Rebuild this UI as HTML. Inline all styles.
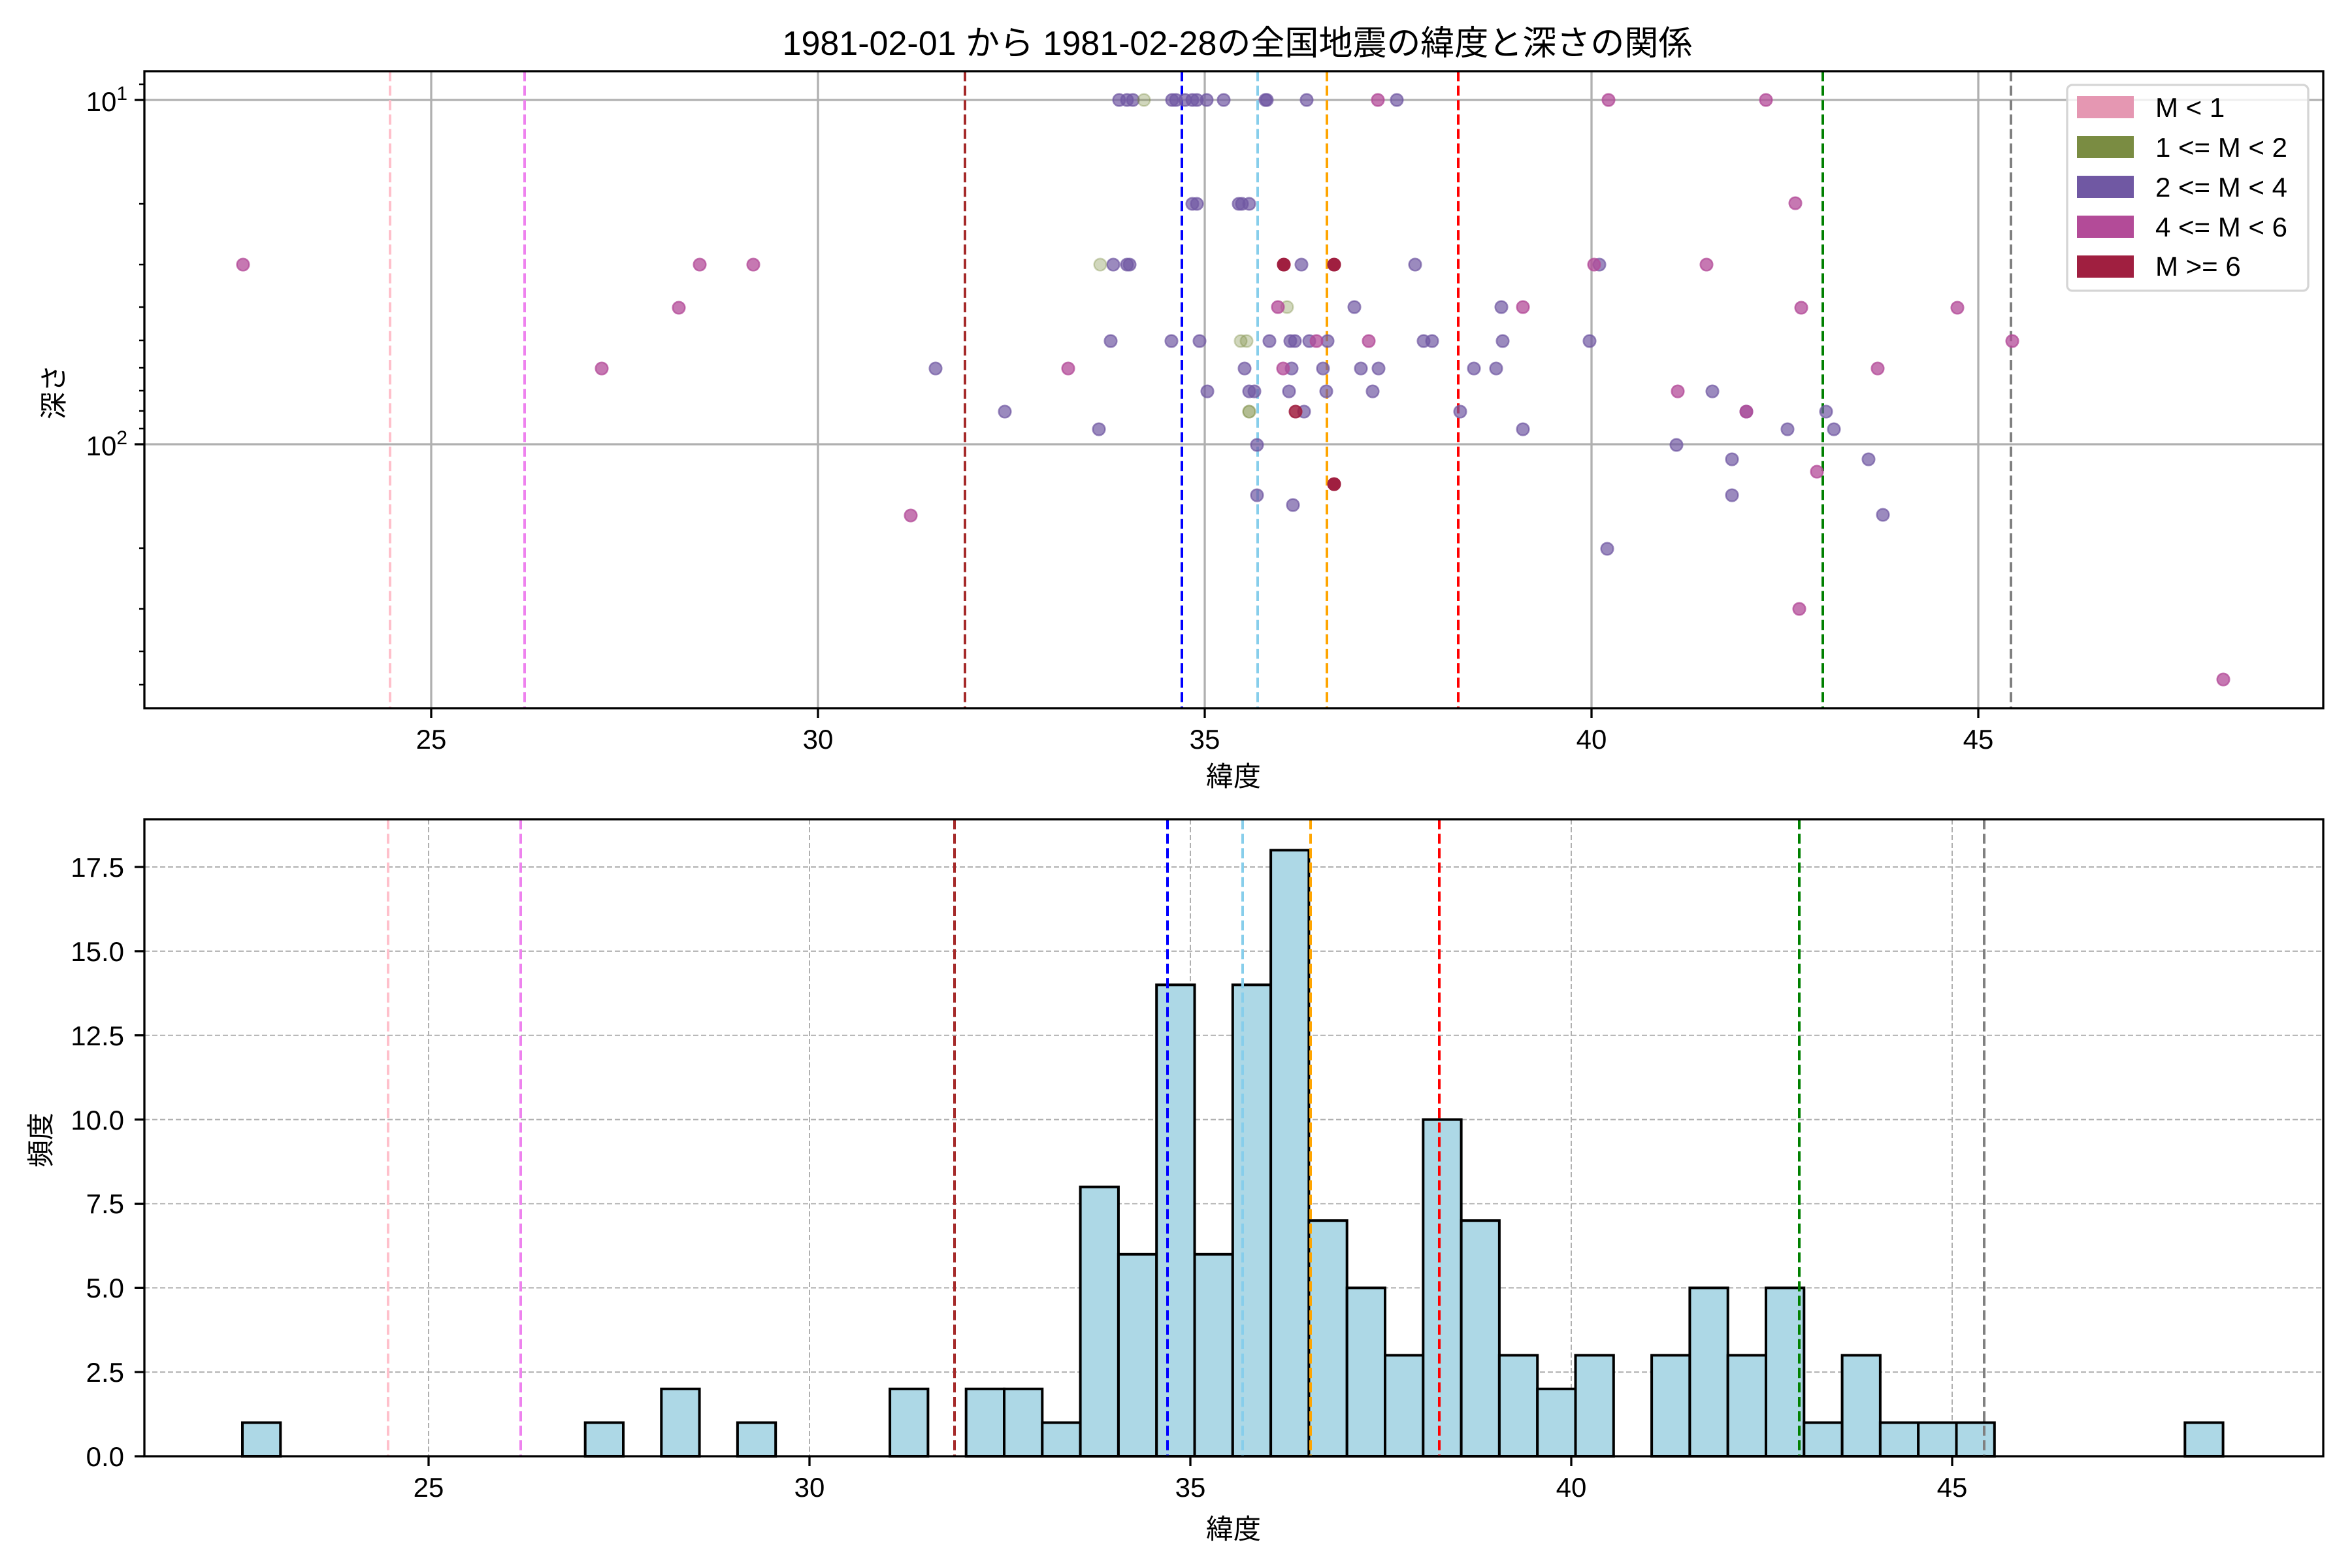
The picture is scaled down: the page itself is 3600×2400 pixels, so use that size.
<!DOCTYPE html>
<html><head><meta charset="utf-8">
<style>
html,body{margin:0;padding:0;background:#fff;}
svg{display:block;}
text{font-family:"Liberation Sans","Noto Sans CJK JP",sans-serif;fill:#000;}
</style></head>
<body>
<svg width="3600" height="2400" viewBox="0 0 3600 2400" xmlns="http://www.w3.org/2000/svg">
<rect width="3600" height="2400" fill="#fff"/>
<text x="1894" y="84" font-size="52" text-anchor="middle">1981-02-01 から 1981-02-28の全国地震の緯度と深さの関係</text>

<!-- TOP PANEL -->
<g stroke="#b0b0b0" stroke-width="3.3">
<line x1="660" y1="109" x2="660" y2="1084"/><line x1="1252" y1="109" x2="1252" y2="1084"/><line x1="1844" y1="109" x2="1844" y2="1084"/><line x1="2436" y1="109" x2="2436" y2="1084"/><line x1="3028" y1="109" x2="3028" y2="1084"/>
<line x1="221" y1="153" x2="3556" y2="153"/><line x1="221" y1="680" x2="3556" y2="680"/>
</g>
<g stroke-width="4" stroke-dasharray="15.4 6.7" fill="none">
<line x1="597" y1="109" x2="597" y2="1084" stroke="#ffc0cb"/>
<line x1="803" y1="109" x2="803" y2="1084" stroke="#ee82ee"/>
<line x1="1477" y1="109" x2="1477" y2="1084" stroke="#a52a2a"/>
<line x1="1809" y1="109" x2="1809" y2="1084" stroke="#0000ff"/>
<line x1="1925" y1="109" x2="1925" y2="1084" stroke="#87ceeb"/>
<line x1="2031" y1="109" x2="2031" y2="1084" stroke="#ffa500"/>
<line x1="2232" y1="109" x2="2232" y2="1084" stroke="#ff0000"/>
<line x1="2790" y1="109" x2="2790" y2="1084" stroke="#008000"/>
<line x1="3078" y1="109" x2="3078" y2="1084" stroke="#808080"/>
</g>
<g stroke-width="2.5">
<g fill="#7058a3" fill-opacity="0.7" stroke="#7058a3" stroke-opacity="0.7">
<circle cx="1432" cy="564" r="9.3"/><circle cx="1538" cy="630" r="9.3"/><circle cx="1682" cy="657" r="9.3"/>
<circle cx="1713" cy="153" r="9.3"/><circle cx="1725" cy="153" r="9.3"/><circle cx="1734" cy="153" r="9.3"/>
<circle cx="1794" cy="153" r="9.3"/><circle cx="1800" cy="153" r="9.3"/><circle cx="1814" cy="153" r="9.3"/><circle cx="1825" cy="153" r="9.3"/><circle cx="1832" cy="153" r="9.3"/><circle cx="1847" cy="153" r="9.3"/><circle cx="1873" cy="153" r="9.3"/>
<circle cx="1937" cy="153" r="9.3"/><circle cx="1939" cy="153" r="9.3"/><circle cx="2000" cy="153" r="9.3"/><circle cx="2138" cy="153" r="9.3"/>
<circle cx="1825" cy="312" r="9.3"/><circle cx="1832" cy="312" r="9.3"/><circle cx="1896" cy="312" r="9.3"/><circle cx="1901" cy="312" r="9.3"/><circle cx="1912" cy="312" r="9.3"/>
<circle cx="1704" cy="405" r="9.3"/><circle cx="1725" cy="405" r="9.3"/><circle cx="1729" cy="405" r="9.3"/><circle cx="1992" cy="405" r="9.3"/><circle cx="2166" cy="405" r="9.3"/><circle cx="2448" cy="405" r="9.3"/>
<circle cx="2073" cy="470" r="9.3"/><circle cx="2298" cy="470" r="9.3"/>
<circle cx="1700" cy="522" r="9.3"/><circle cx="1793" cy="522" r="9.3"/><circle cx="1836" cy="522" r="9.3"/><circle cx="1943" cy="522" r="9.3"/><circle cx="1975" cy="522" r="9.3"/><circle cx="1982" cy="522" r="9.3"/><circle cx="2004" cy="522" r="9.3"/><circle cx="2032" cy="522" r="9.3"/><circle cx="2179" cy="522" r="9.3"/><circle cx="2192" cy="522" r="9.3"/><circle cx="2300" cy="522" r="9.3"/><circle cx="2433" cy="522" r="9.3"/>
<circle cx="1905" cy="564" r="9.3"/><circle cx="1977" cy="564" r="9.3"/><circle cx="2025" cy="564" r="9.3"/><circle cx="2083" cy="564" r="9.3"/><circle cx="2110" cy="564" r="9.3"/><circle cx="2256" cy="564" r="9.3"/><circle cx="2290" cy="564" r="9.3"/>
<circle cx="1848" cy="599" r="9.3"/><circle cx="1912" cy="599" r="9.3"/><circle cx="1920" cy="599" r="9.3"/><circle cx="1973" cy="599" r="9.3"/><circle cx="2030" cy="599" r="9.3"/><circle cx="2101" cy="599" r="9.3"/><circle cx="2621" cy="599" r="9.3"/>
<circle cx="1996" cy="630" r="9.3"/><circle cx="2235" cy="630" r="9.3"/><circle cx="2673" cy="630" r="9.3"/><circle cx="2795" cy="630" r="9.3"/>
<circle cx="2331" cy="657" r="9.3"/><circle cx="2736" cy="657" r="9.3"/><circle cx="2807" cy="657" r="9.3"/>
<circle cx="1924" cy="681" r="9.3"/><circle cx="2566" cy="681" r="9.3"/>
<circle cx="2651" cy="703" r="9.3"/><circle cx="2860" cy="703" r="9.3"/>
<circle cx="1924" cy="758" r="9.3"/><circle cx="2651" cy="758" r="9.3"/><circle cx="1979" cy="773" r="9.3"/><circle cx="2882" cy="788" r="9.3"/><circle cx="2460" cy="840" r="9.3"/>
</g>
<g fill="#7a8c42" fill-opacity="0.35" stroke="#7a8c42" stroke-opacity="0.35">
<circle cx="1751" cy="153" r="9.3"/><circle cx="1684" cy="405" r="9.3"/><circle cx="1970" cy="470" r="9.3"/><circle cx="1899" cy="522" r="9.3"/><circle cx="1908" cy="522" r="9.3"/><circle cx="1912" cy="630" r="9.3"/><circle cx="1912" cy="630" r="9.3"/>
</g>
<g fill="#b34b98" fill-opacity="0.75" stroke="#b34b98" stroke-opacity="0.75">
<circle cx="372" cy="405" r="9.3"/><circle cx="921" cy="564" r="9.3"/><circle cx="1039" cy="471" r="9.3"/><circle cx="1071" cy="405" r="9.3"/><circle cx="1153" cy="405" r="9.3"/><circle cx="1394" cy="789" r="9.3"/><circle cx="1635" cy="564" r="9.3"/>
<circle cx="2109" cy="153" r="9.3"/><circle cx="2462" cy="153" r="9.3"/><circle cx="2703" cy="153" r="9.3"/><circle cx="2748" cy="311" r="9.3"/>
<circle cx="2440" cy="405" r="9.3"/><circle cx="2612" cy="405" r="9.3"/>
<circle cx="1956" cy="470" r="9.3"/><circle cx="2331" cy="470" r="9.3"/><circle cx="2757" cy="471" r="9.3"/><circle cx="2996" cy="471" r="9.3"/>
<circle cx="2015" cy="522" r="9.3"/><circle cx="2095" cy="522" r="9.3"/><circle cx="3080" cy="522" r="9.3"/>
<circle cx="1964" cy="564" r="9.3"/><circle cx="2874" cy="564" r="9.3"/><circle cx="2568" cy="599" r="9.3"/><circle cx="2673" cy="630" r="9.3"/>
<circle cx="2781" cy="722" r="9.3"/><circle cx="2754" cy="932" r="9.3"/><circle cx="3403" cy="1040" r="9.3"/>
</g>
<g fill="#a01f40" stroke="#a01f40">
<circle cx="1965" cy="405" r="9.3"/><circle cx="2042" cy="405" r="9.3"/><circle cx="1983" cy="630" r="9.3" fill-opacity="0.85" stroke-opacity="0.85"/><circle cx="2042" cy="741" r="9.3"/>
</g>
</g>
<rect x="221" y="109" width="3335" height="975" fill="none" stroke="#000" stroke-width="3.3"/>
<g stroke="#000" stroke-width="3.3">
<line x1="660" y1="1084" x2="660" y2="1099"/><line x1="1252" y1="1084" x2="1252" y2="1099"/><line x1="1844" y1="1084" x2="1844" y2="1099"/><line x1="2436" y1="1084" x2="2436" y2="1099"/><line x1="3028" y1="1084" x2="3028" y2="1099"/>
<line x1="206" y1="153" x2="221" y2="153"/><line x1="206" y1="680" x2="221" y2="680"/>
</g>
<g stroke="#000" stroke-width="2.5">
<line x1="213" y1="129" x2="221" y2="129"/><line x1="213" y1="312" x2="221" y2="312"/><line x1="213" y1="405" x2="221" y2="405"/><line x1="213" y1="470" x2="221" y2="470"/><line x1="213" y1="521" x2="221" y2="521"/><line x1="213" y1="563" x2="221" y2="563"/><line x1="213" y1="598" x2="221" y2="598"/><line x1="213" y1="629" x2="221" y2="629"/><line x1="213" y1="656" x2="221" y2="656"/>
<line x1="213" y1="839" x2="221" y2="839"/><line x1="213" y1="932" x2="221" y2="932"/><line x1="213" y1="997" x2="221" y2="997"/><line x1="213" y1="1048" x2="221" y2="1048"/>
</g>
<g font-size="42" text-anchor="middle">
<text x="660" y="1146">25</text><text x="1252" y="1146">30</text><text x="1844" y="1146">35</text><text x="2436" y="1146">40</text><text x="3028" y="1146">45</text>
<text x="1888" y="1203">緯度</text>
</g>
<g font-size="42" text-anchor="end">
<text x="195" y="170">10<tspan font-size="30" dy="-17">1</tspan></text>
<text x="195" y="697">10<tspan font-size="30" dy="-17">2</tspan></text>
</g>
<text font-size="42" text-anchor="middle" transform="translate(97,600) rotate(-90)">深さ</text>

<!-- legend -->
<rect x="3164" y="130" width="369" height="315" rx="8" fill="#fff" fill-opacity="0.8" stroke="#d5d5d5" stroke-width="3.3"/>
<rect x="3179" y="147" width="87" height="34" fill="#e597b2"/>
<rect x="3179" y="208" width="87" height="34" fill="#7a8c42"/>
<rect x="3179" y="269" width="87" height="34" fill="#7058a3"/>
<rect x="3179" y="330" width="87" height="34" fill="#b34b98"/>
<rect x="3179" y="391" width="87" height="34" fill="#a01f40"/>
<g font-size="42">
<text x="3299" y="179">M &lt; 1</text>
<text x="3299" y="240">1 &lt;= M &lt; 2</text>
<text x="3299" y="301">2 &lt;= M &lt; 4</text>
<text x="3299" y="362">4 &lt;= M &lt; 6</text>
<text x="3299" y="422">M &gt;= 6</text>
</g>

<!-- BOTTOM PANEL -->
<g stroke="#b0b0b0" stroke-width="2" stroke-dasharray="8 4">
<line x1="656" y1="1254" x2="656" y2="2229"/><line x1="1239" y1="1254" x2="1239" y2="2229"/><line x1="1822" y1="1254" x2="1822" y2="2229"/><line x1="2405" y1="1254" x2="2405" y2="2229"/><line x1="2988" y1="1254" x2="2988" y2="2229"/>
<line x1="221" y1="2100.1" x2="3556" y2="2100.1"/><line x1="221" y1="1971.3" x2="3556" y2="1971.3"/><line x1="221" y1="1842.4" x2="3556" y2="1842.4"/><line x1="221" y1="1713.6" x2="3556" y2="1713.6"/><line x1="221" y1="1584.7" x2="3556" y2="1584.7"/><line x1="221" y1="1455.9" x2="3556" y2="1455.9"/><line x1="221" y1="1327" x2="3556" y2="1327"/>
</g>
<g fill="#add8e6" stroke="#000" stroke-width="4">
<rect x="371" y="2177.5" width="58.3" height="51.5"/>
<rect x="895.7" y="2177.5" width="58.3" height="51.5"/>
<rect x="1012.3" y="2125.9" width="58.3" height="103.1"/>
<rect x="1128.9" y="2177.5" width="58.3" height="51.5"/>
<rect x="1362.1" y="2125.9" width="58.3" height="103.1"/>
<rect x="1478.7" y="2125.9" width="58.3" height="103.1"/>
<rect x="1537" y="2125.9" width="58.3" height="103.1"/>
<rect x="1595.3" y="2177.5" width="58.3" height="51.5"/>
<rect x="1653.6" y="1816.7" width="58.3" height="412.3"/>
<rect x="1711.9" y="1919.8" width="58.3" height="309.2"/>
<rect x="1770.2" y="1507.4" width="58.3" height="721.6"/>
<rect x="1828.5" y="1919.8" width="58.3" height="309.2"/>
<rect x="1886.8" y="1507.4" width="58.3" height="721.6"/>
<rect x="1945.1" y="1301.3" width="58.3" height="927.7"/>
<rect x="2003.4" y="1868.2" width="58.3" height="360.8"/>
<rect x="2061.7" y="1971.3" width="58.3" height="257.7"/>
<rect x="2120" y="2074.4" width="58.3" height="154.6"/>
<rect x="2178.3" y="1713.6" width="58.3" height="515.4"/>
<rect x="2236.6" y="1868.2" width="58.3" height="360.8"/>
<rect x="2294.9" y="2074.4" width="58.3" height="154.6"/>
<rect x="2353.2" y="2125.9" width="58.3" height="103.1"/>
<rect x="2411.5" y="2074.4" width="58.3" height="154.6"/>
<rect x="2528.1" y="2074.4" width="58.3" height="154.6"/>
<rect x="2586.4" y="1971.3" width="58.3" height="257.7"/>
<rect x="2644.7" y="2074.4" width="58.3" height="154.6"/>
<rect x="2703" y="1971.3" width="58.3" height="257.7"/>
<rect x="2761.3" y="2177.5" width="58.3" height="51.5"/>
<rect x="2819.6" y="2074.4" width="58.3" height="154.6"/>
<rect x="2877.9" y="2177.5" width="58.3" height="51.5"/>
<rect x="2936.2" y="2177.5" width="58.3" height="51.5"/>
<rect x="2994.5" y="2177.5" width="58.3" height="51.5"/>
<rect x="3344.3" y="2177.5" width="58.3" height="51.5"/>
</g>
<g stroke-width="4" stroke-dasharray="15.4 6.7" fill="none">
<line x1="594" y1="1254" x2="594" y2="2229" stroke="#ffc0cb"/>
<line x1="797" y1="1254" x2="797" y2="2229" stroke="#ee82ee"/>
<line x1="1461" y1="1254" x2="1461" y2="2229" stroke="#a52a2a"/>
<line x1="1787" y1="1254" x2="1787" y2="2229" stroke="#0000ff"/>
<line x1="1902" y1="1254" x2="1902" y2="2229" stroke="#87ceeb"/>
<line x1="2006" y1="1254" x2="2006" y2="2229" stroke="#ffa500"/>
<line x1="2203" y1="1254" x2="2203" y2="2229" stroke="#ff0000"/>
<line x1="2754" y1="1254" x2="2754" y2="2229" stroke="#008000"/>
<line x1="3037" y1="1254" x2="3037" y2="2229" stroke="#808080"/>
</g>
<rect x="221" y="1254" width="3335" height="975" fill="none" stroke="#000" stroke-width="3.3"/>
<g stroke="#000" stroke-width="3.3">
<line x1="656" y1="2229" x2="656" y2="2244"/><line x1="1239" y1="2229" x2="1239" y2="2244"/><line x1="1822" y1="2229" x2="1822" y2="2244"/><line x1="2405" y1="2229" x2="2405" y2="2244"/><line x1="2988" y1="2229" x2="2988" y2="2244"/>
<line x1="206" y1="2229" x2="221" y2="2229"/><line x1="206" y1="2100.1" x2="221" y2="2100.1"/><line x1="206" y1="1971.3" x2="221" y2="1971.3"/><line x1="206" y1="1842.4" x2="221" y2="1842.4"/><line x1="206" y1="1713.6" x2="221" y2="1713.6"/><line x1="206" y1="1584.7" x2="221" y2="1584.7"/><line x1="206" y1="1455.9" x2="221" y2="1455.9"/><line x1="206" y1="1327" x2="221" y2="1327"/>
</g>
<g font-size="42" text-anchor="middle">
<text x="656" y="2291">25</text><text x="1239" y="2291">30</text><text x="1822" y="2291">35</text><text x="2405" y="2291">40</text><text x="2988" y="2291">45</text>
<text x="1888" y="2355">緯度</text>
</g>
<g font-size="42" text-anchor="end">
<text x="190" y="2244">0.0</text><text x="190" y="2115">2.5</text><text x="190" y="1986">5.0</text><text x="190" y="1857">7.5</text><text x="190" y="1729">10.0</text><text x="190" y="1600">12.5</text><text x="190" y="1471">15.0</text><text x="190" y="1342">17.5</text>
</g>
<text font-size="42" text-anchor="middle" transform="translate(77,1745) rotate(-90)">頻度</text>
</svg>
</body></html>
